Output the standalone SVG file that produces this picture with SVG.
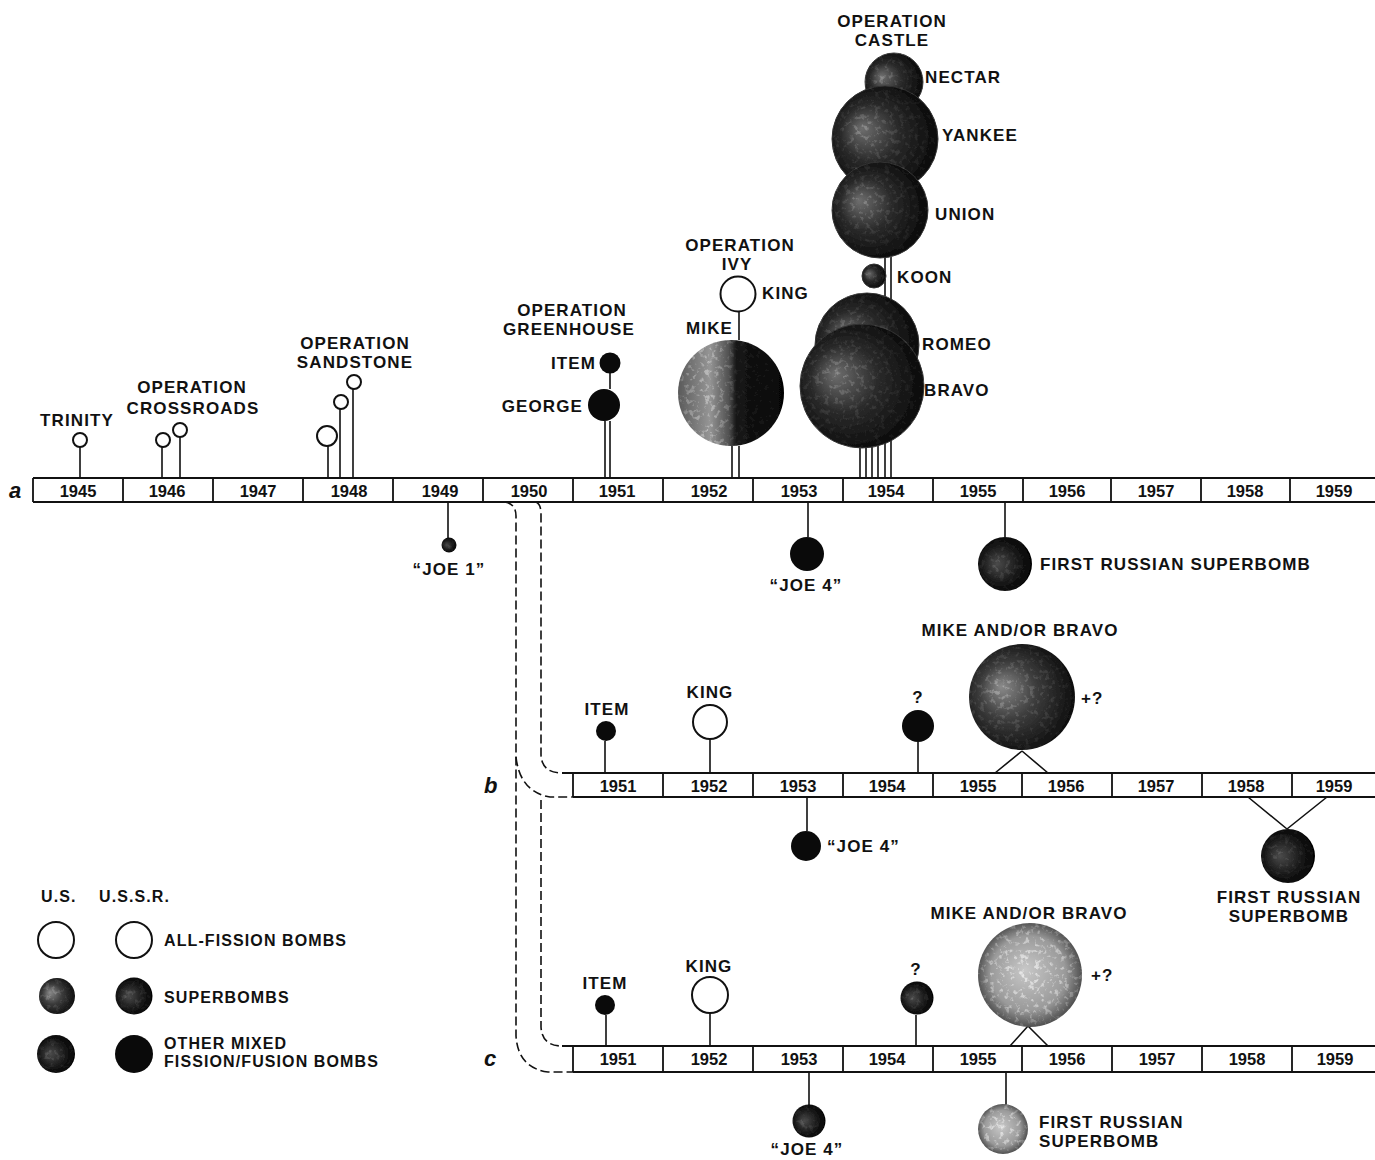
<svg xmlns="http://www.w3.org/2000/svg" width="1375" height="1160" viewBox="0 0 1375 1160">
<defs>
<style>
text{font-family:"Liberation Sans",Arial,sans-serif;font-weight:bold;font-size:17px;fill:#111;letter-spacing:1.1px}
.yr{text-anchor:middle;letter-spacing:0;font-size:16.5px}
.c{text-anchor:middle}
.e{text-anchor:end}
.lab{font-style:italic;font-size:22px;letter-spacing:0}
.box{fill:#fff;stroke:none}
.ln{stroke:#111;stroke-width:1.8;fill:none}
.stem{stroke:#111;stroke-width:1.6;fill:none}
.dash{stroke:#111;stroke-width:1.6;fill:none;stroke-dasharray:9 4}
.open{fill:#fff;stroke:#111;stroke-width:2}
.blk{fill:#0a0a0a}
.us{fill:url(#gUS);filter:url(#mottle)}
.mike{fill:url(#gMike);filter:url(#mottle)}
.dk{fill:url(#gDark);filter:url(#mottle)}
.lt{fill:url(#gLight);filter:url(#mottle)}
.cs{fill:url(#gCastle);stroke:#333;stroke-width:1;filter:url(#mottle)}
</style>
<radialGradient id="gUS" cx="0.45" cy="0.5" r="0.6" fx="0.3" fy="0.4">
<stop offset="0" stop-color="#8a8a8a"/><stop offset="0.45" stop-color="#3c3c3c"/><stop offset="1" stop-color="#070707"/>
</radialGradient>
<radialGradient id="gCastle" cx="0.45" cy="0.5" r="0.6" fx="0.28" fy="0.4">
<stop offset="0" stop-color="#6e6e6e"/><stop offset="0.45" stop-color="#2a2a2a"/><stop offset="1" stop-color="#050505"/>
</radialGradient>
<linearGradient id="gMike" x1="0" y1="0" x2="1" y2="0">
<stop offset="0" stop-color="#5a5a5a"/><stop offset="0.3" stop-color="#959595"/><stop offset="0.48" stop-color="#505050"/><stop offset="0.55" stop-color="#151515"/><stop offset="1" stop-color="#050505"/>
</linearGradient>
<radialGradient id="gDark" cx="0.45" cy="0.5" r="0.6" fx="0.35" fy="0.5">
<stop offset="0" stop-color="#4a4a4a"/><stop offset="0.6" stop-color="#161616"/><stop offset="1" stop-color="#000"/>
</radialGradient>
<radialGradient id="gLight" cx="0.5" cy="0.5" r="0.55" fx="0.45" fy="0.45">
<stop offset="0" stop-color="#c8c8c8"/><stop offset="0.65" stop-color="#9a9a9a"/><stop offset="0.9" stop-color="#555"/><stop offset="1" stop-color="#222"/>
</radialGradient>
<filter id="mottle" x="-0.05" y="-0.05" width="1.1" height="1.1">
<feTurbulence type="fractalNoise" baseFrequency="0.2" numOctaves="3" seed="7" result="noise"/>
<feColorMatrix in="noise" type="matrix" values="0 0 0 0 1  0 0 0 0 1  0 0 0 0 1  6 0 0 0 -3.3" result="spots"/>
<feColorMatrix in="SourceGraphic" type="luminanceToAlpha" result="lum"/>
<feComposite in="spots" in2="lum" operator="in" result="sp2"/>
<feComposite in="sp2" in2="SourceGraphic" operator="over"/>
</filter>
</defs>
<rect width="1375" height="1160" fill="#fff"/>

<!-- Timelines -->
<g id="timeline-a">
<rect class="box" x="33" y="478" width="1342" height="24"/>
<path class="ln" d="M33 478H1375M33 502H1375M33 478V502M123 478V502M213 478V502M303 478V502M393 478V502M483 478V502M573 478V502M663 478V502M753 478V502M843 478V502M933 478V502M1023 478V502M1111 478V502M1201 478V502M1290 478V502"/>
<text class="lab" x="9" y="498">a</text>
<text class="yr" x="78" y="497">1945</text><text class="yr" x="167" y="497">1946</text><text class="yr" x="258" y="497">1947</text><text class="yr" x="349" y="497">1948</text><text class="yr" x="440" y="497">1949</text><text class="yr" x="529" y="497">1950</text><text class="yr" x="617" y="497">1951</text><text class="yr" x="709" y="497">1952</text><text class="yr" x="799" y="497">1953</text><text class="yr" x="886" y="497">1954</text><text class="yr" x="978" y="497">1955</text><text class="yr" x="1067" y="497">1956</text><text class="yr" x="1156" y="497">1957</text><text class="yr" x="1245" y="497">1958</text><text class="yr" x="1334" y="497">1959</text>
</g>
<g id="timeline-b">
<rect class="box" x="573" y="773" width="802" height="24"/>
<path class="ln" d="M562 773H1375M573 797H1375M573 773V797M663 773V797M753 773V797M843 773V797M933 773V797M1022 773V797M1112 773V797M1202 773V797M1292 773V797"/>
<text class="lab" x="484" y="793">b</text>
<text class="yr" x="618" y="792">1951</text><text class="yr" x="709" y="792">1952</text><text class="yr" x="798" y="792">1953</text><text class="yr" x="887" y="792">1954</text><text class="yr" x="978" y="792">1955</text><text class="yr" x="1066" y="792">1956</text><text class="yr" x="1156" y="792">1957</text><text class="yr" x="1246" y="792">1958</text><text class="yr" x="1334" y="792">1959</text>
</g>
<g id="timeline-c">
<rect class="box" x="573" y="1046" width="802" height="26"/>
<path class="ln" d="M562 1046H1375M573 1072H1375M573 1046V1072M663 1046V1072M753 1046V1072M843 1046V1072M933 1046V1072M1022 1046V1072M1112 1046V1072M1202 1046V1072M1292 1046V1072"/>
<text class="lab" x="484" y="1066">c</text>
<text class="yr" x="618" y="1065">1951</text><text class="yr" x="709" y="1065">1952</text><text class="yr" x="799" y="1065">1953</text><text class="yr" x="887" y="1065">1954</text><text class="yr" x="978" y="1065">1955</text><text class="yr" x="1067" y="1065">1956</text><text class="yr" x="1157" y="1065">1957</text><text class="yr" x="1247" y="1065">1958</text><text class="yr" x="1335" y="1065">1959</text>
</g>

<!-- Connectors -->
<g id="connectors">
<path class="dash" d="M505 502Q516 504 516 516V1036Q518 1068 548 1072H573"/>
<path class="dash" d="M516 757Q520 792 550 797H573"/>
<path class="dash" d="M536 502Q541 504 541 514V755Q542 773 562 773"/>
<path class="dash" d="M541 800V1027Q542 1046 562 1046"/>
<path class="stem" d="M80 447V478M162 447V478M180 437V478M328 446V478M340 409V478M353 389V478"/>
<path class="stem" d="M605 421V478M610 421V478M610 373V389"/>
<path class="stem" d="M732 446V478M739 446V478M739 311V340"/>
<path class="stem" d="M885 255V478M891 255V478M860 440V478M866 440V478M872 440V478M878 440V478"/>
<path class="stem" d="M448 502V538M808 502V537M1005 502V537"/>
<path class="stem" d="M605 741V773M710 739V773M918 742V773M1022 751L995 773M1022 751L1048 773M807 797V831M1287 829L1248 797M1287 829L1327 797"/>
<path class="stem" d="M606 1015V1046M710 1013V1046M916 1015V1046M1028 1026L1010 1046M1028 1026L1048 1046M809 1072V1105M1006 1072V1105"/>
</g>

<!-- Timeline a nodes -->
<g id="trinity"><circle class="open" cx="80" cy="440" r="7"/><text class="c" x="77" y="426">TRINITY</text></g>
<g id="crossroads"><circle class="open" cx="163" cy="440" r="7"/><circle class="open" cx="180" cy="430" r="7"/><text class="c" x="192" y="393">OPERATION</text><text class="c" x="193" y="414">CROSSROADS</text></g>
<g id="sandstone"><circle class="open" cx="327" cy="436" r="10"/><circle class="open" cx="341" cy="402" r="7"/><circle class="open" cx="354" cy="382" r="7"/><text class="c" x="355" y="349">OPERATION</text><text class="c" x="355" y="368">SANDSTONE</text></g>
<g id="greenhouse"><circle class="blk" cx="610" cy="363" r="10.5"/><circle class="blk" cx="604" cy="405" r="16"/><text class="c" x="572" y="316">OPERATION</text><text class="c" x="569" y="335">GREENHOUSE</text><text class="e" x="596" y="369">ITEM</text><text class="e" x="583" y="412">GEORGE</text></g>
<g id="ivy"><circle class="open" cx="738" cy="294" r="17.5"/><circle class="mike" cx="731" cy="393" r="53"/><text class="c" x="740" y="251">OPERATION</text><text class="c" x="737" y="270">IVY</text><text x="762" y="299">KING</text><text class="e" x="733" y="334">MIKE</text></g>
<g id="castle">
<circle class="cs" cx="894" cy="82" r="29"/>
<circle class="cs" cx="885" cy="139" r="53"/>
<circle class="cs" cx="880" cy="210" r="48"/>
<circle class="cs" cx="874" cy="276" r="12"/>
<circle class="cs" cx="867" cy="345" r="52"/>
<circle class="cs" cx="862" cy="386" r="62"/>
<text class="c" x="892" y="27">OPERATION</text><text class="c" x="892" y="46">CASTLE</text>
<text x="925" y="83">NECTAR</text><text x="942" y="141">YANKEE</text><text x="935" y="220">UNION</text><text x="897" y="283">KOON</text><text x="922" y="350">ROMEO</text><text x="924" y="396">BRAVO</text>
</g>
<g id="joe1"><circle class="dk" cx="449" cy="545" r="7.5"/><text class="c" x="449" y="575">“JOE 1”</text></g>
<g id="joe4-a"><circle class="blk" cx="807" cy="554" r="17"/><text class="c" x="806" y="591">“JOE 4”</text></g>
<g id="russian-a"><circle class="dk" cx="1005" cy="564" r="27"/><text x="1040" y="570">FIRST RUSSIAN SUPERBOMB</text></g>

<!-- Timeline b nodes -->
<g id="item-b"><circle class="blk" cx="606" cy="731" r="10"/><text class="c" x="607" y="715">ITEM</text></g>
<g id="king-b"><circle class="open" cx="710" cy="722" r="17"/><text class="c" x="710" y="698">KING</text></g>
<g id="q-b"><circle class="blk" cx="918" cy="726" r="16"/><text class="c" x="918" y="703">?</text></g>
<g id="mikebravo-b"><circle class="us" cx="1022" cy="697" r="53"/><text class="c" x="1020" y="636">MIKE AND/OR BRAVO</text><text x="1081" y="704">+?</text></g>
<g id="joe4-b"><circle class="blk" cx="806" cy="846" r="15"/><text x="827" y="852">“JOE 4”</text></g>
<g id="russian-b"><circle class="dk" cx="1288" cy="856" r="27"/><text class="c" x="1289" y="903">FIRST RUSSIAN</text><text class="c" x="1289" y="922">SUPERBOMB</text></g>

<!-- Timeline c nodes -->
<g id="item-c"><circle class="blk" cx="605" cy="1005" r="10"/><text class="c" x="605" y="989">ITEM</text></g>
<g id="king-c"><circle class="open" cx="710" cy="995" r="18"/><text class="c" x="709" y="972">KING</text></g>
<g id="q-c"><circle class="dk" cx="917" cy="998" r="16.5"/><text class="c" x="916" y="975">?</text></g>
<g id="mikebravo-c"><circle class="lt" cx="1030" cy="975" r="52"/><text class="c" x="1029" y="919">MIKE AND/OR BRAVO</text><text x="1091" y="981">+?</text></g>
<g id="joe4-c"><circle class="dk" cx="809" cy="1121" r="16.5"/><text class="c" x="807" y="1155">“JOE 4”</text></g>
<g id="russian-c"><circle class="lt" cx="1003" cy="1129" r="25"/><text x="1039" y="1128">FIRST RUSSIAN</text><text x="1039" y="1147">SUPERBOMB</text></g>

<!-- Legend -->
<g id="legend">
<text x="41" y="902" style="font-size:16px">U.S.</text><text x="99" y="902" style="font-size:16px">U.S.S.R.</text>
<circle class="open" cx="56" cy="940" r="18"/><circle class="open" cx="134" cy="940" r="18"/>
<text x="164" y="946" style="font-size:16px">ALL-FISSION BOMBS</text>
<circle class="us" cx="57" cy="996" r="18"/><circle class="dk" cx="134" cy="996" r="18.5"/>
<text x="164" y="1003" style="font-size:16px">SUPERBOMBS</text>
<circle class="dk" cx="56" cy="1054" r="19"/><circle class="blk" cx="134" cy="1054" r="19"/>
<text x="164" y="1049" style="font-size:16px">OTHER MIXED</text><text x="164" y="1067" style="font-size:16px">FISSION/FUSION BOMBS</text>
</g>
</svg>
